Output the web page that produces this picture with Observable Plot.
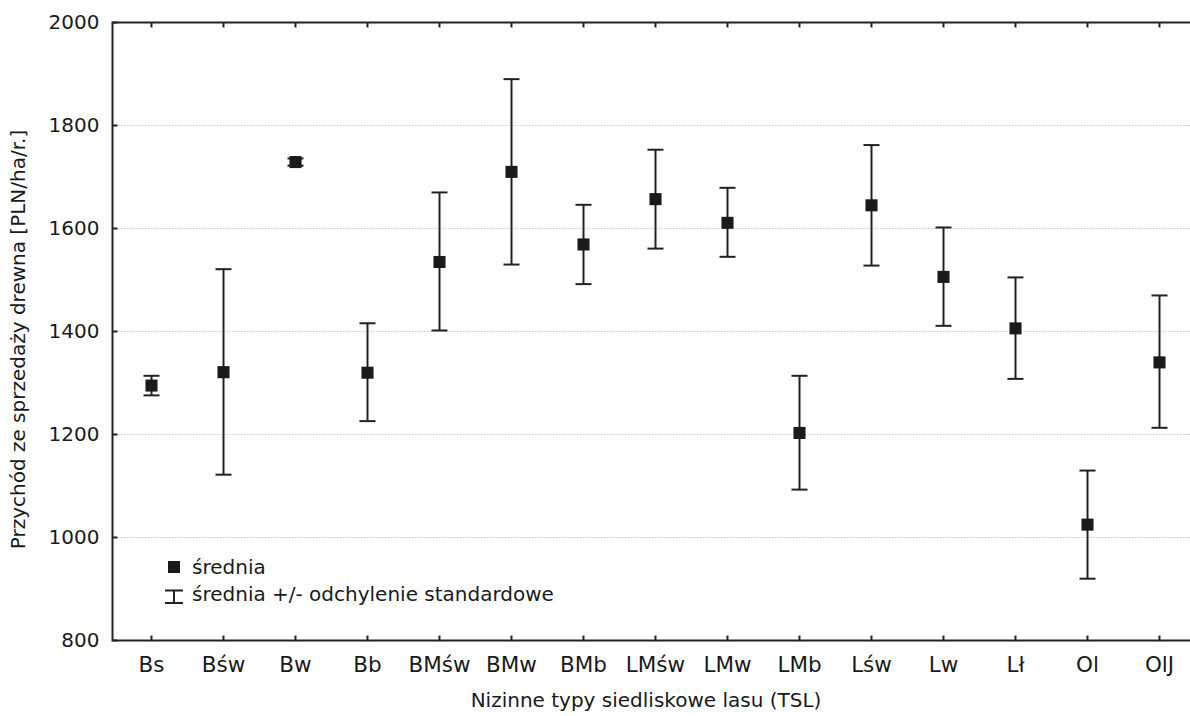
<!DOCTYPE html>
<html>
<head>
<meta charset="utf-8">
<script src="https://cdn.jsdelivr.net/npm/d3@7"></script>
<script src="https://cdn.jsdelivr.net/npm/@observablehq/plot@0.6"></script>
<style>
  html, body { margin: 0; padding: 0; background: #fff; overflow: hidden; }
  #wrap { position: relative; width: 1190px; height: 716px; overflow: hidden; font-family: "DejaVu Sans", sans-serif; }
  #wrap > svg { max-width: none !important; }
  #legend { position: absolute; left: 0; top: 0; pointer-events: none; }
</style>
</head>
<body>
<div id="wrap"></div>
<script>
const categories = ["Bs","Bśw","Bw","Bb","BMśw","BMw","BMb","LMśw","LMw","LMb","Lśw","Lw","Lł","Ol","OlJ"];
const means = [1295,1321,1729,1320,1535,1710,1569,1657,1611,1203,1645,1506,1406,1025,1340];
const upper = [1314,1521,1736,1416,1670,1890,1646,1753,1679,1314,1762,1602,1505,1130,1470];
const lower = [1276,1122,1722,1226,1402,1530,1492,1561,1545,1093,1528,1411,1308,920,1213];
const yTicks = [800,1000,1200,1400,1600,1800,2000];
const gridTicks = [1000,1200,1400,1600,1800];
const yLabel = "Przychód ze sprzedaży drewna [PLN/ha/r.]";
const xLabel = "Nizinne typy siedliskowe lasu (TSL)";
const legendMean = "średnia";
const legendSd = "średnia +/- odchylenie standardowe";

const data = categories.map((c, i) => ({cat: c, mean: means[i], hi: upper[i], lo: lower[i]}));

const ink = "#222";
const font = "'DejaVu Sans', sans-serif";
const capSymbol = {draw(ctx) { ctx.moveTo(-8, 0); ctx.lineTo(8, 0); }};
const tickRight = {draw(ctx) { ctx.moveTo(0, 0); ctx.lineTo(5, 0); }};
const tickUp = {draw(ctx) { ctx.moveTo(0, 0); ctx.lineTo(0, -5); }};
const tickDown = {draw(ctx) { ctx.moveTo(0, 0); ctx.lineTo(0, 5); }};

const chart = Plot.plot({
  width: 1197,
  height: 716,
  marginLeft: 112,
  marginRight: 0,
  marginTop: 22,
  marginBottom: 76,
  style: {fontFamily: font, fontSize: "20px", color: "#1a1a1a", background: "#fff", maxWidth: "none"},
  x: {type: "point", domain: categories, padding: 0.5},
  y: {domain: [800, 2000]},
  marks: [
    Plot.gridY(gridTicks, {stroke: "#c4c4c4", strokeOpacity: 1, strokeDasharray: "1.5,1.5", strokeWidth: 1}),
    Plot.frame({stroke: ink, strokeWidth: 2}),
    Plot.dot(yTicks, {y: d => d, frameAnchor: "left", symbol: tickRight, stroke: ink, strokeWidth: 2, fill: "none"}),
    Plot.dot(categories, {x: d => d, frameAnchor: "bottom", symbol: tickUp, stroke: ink, strokeWidth: 2, fill: "none"}),
    Plot.dot(categories, {x: d => d, frameAnchor: "top", symbol: tickDown, stroke: ink, strokeWidth: 2, fill: "none"}),
    Plot.axisY(yTicks, {tickSize: 0, tickPadding: 13, fontSize: 20, label: null, tickFormat: d => String(d)}),
    Plot.axisX({tickSize: 0, tickPadding: 16, fontSize: 21.5, label: null}),
    Plot.text([yLabel], {text: d => d, frameAnchor: "left", textAnchor: "middle", lineAnchor: "middle", rotate: -90, dx: -94, dy: 8, fontSize: 20}),
    Plot.text([xLabel], {text: d => d, frameAnchor: "bottom", textAnchor: "middle", lineAnchor: "middle", dy: 60, dx: -9, fontSize: 20}),
    Plot.ruleX(data, {x: "cat", y1: "lo", y2: "hi", stroke: ink, strokeWidth: 2}),
    Plot.dot(data, {x: "cat", y: "hi", symbol: capSymbol, stroke: ink, strokeWidth: 2, fill: "none"}),
    Plot.dot(data, {x: "cat", y: "lo", symbol: capSymbol, stroke: ink, strokeWidth: 2, fill: "none"}),
    Plot.dot(data, {x: "cat", y: "mean", symbol: "square", r: 6.8, fill: "#1a1a1a", stroke: "none"})
  ]
});
const wrap = document.getElementById("wrap");
wrap.appendChild(chart);

// legend overlay
const ns = "http://www.w3.org/2000/svg";
const lg = document.createElementNS(ns, "svg");
lg.setAttribute("id", "legend");
lg.setAttribute("width", 1190);
lg.setAttribute("height", 716);
lg.innerHTML = `
  <rect x="168" y="561" width="12" height="12" fill="#1a1a1a"/>
  <text x="192" y="574" font-size="20" fill="#1a1a1a" font-family="${font}">${legendMean}</text>
  <path d="M165,590.5H183M174,590.5V603M165,603H183" stroke="${ink}" stroke-width="2" fill="none"/>
  <text x="192" y="601" font-size="20" fill="#1a1a1a" font-family="${font}">${legendSd}</text>
`;
wrap.appendChild(lg);
</script>
</body>
</html>
